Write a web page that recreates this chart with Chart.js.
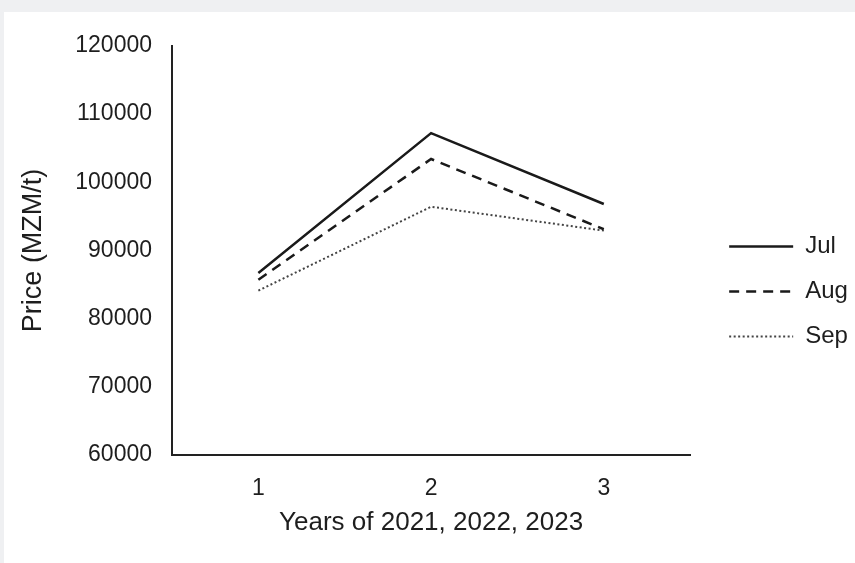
<!DOCTYPE html>
<html>
<head>
<meta charset="utf-8">
<script src="https://cdn.jsdelivr.net/npm/chart.js@4.4.0/dist/chart.umd.min.js"></script>
<style>
    html, body { margin: 0; padding: 0; background: #eff0f2; }
    #wrap { position: absolute; left: 4px; top: 12px; width: 851px; height: 551px; background: #fff; }
</style>
</head>
<body>
<div id="wrap"><canvas id="grafico" width="851" height="551"></canvas></div>
<script>
// Dados
const categorias = ['1', '2', '3'];
const jul = [86700, 107200, 96800];
const aug = [85700, 103400, 93100];
const sep = [84100, 96400, 92900];
const yTicks = [60000, 70000, 80000, 90000, 100000, 110000, 120000];

document.addEventListener('DOMContentLoaded', function () {
    const canvas = document.getElementById('grafico');
    const corTexto = '#1e1e1e';
    const fonte = 'Liberation Sans, Arial, sans-serif';
    const larguraLinha = 64;

    // Desenha as linhas da legenda com o mesmo tracejado das séries
    const linhasLegenda = {
        id: 'linhasLegenda',
        afterDraw(chart) {
            const legend = chart.legend;
            const ctx = chart.ctx;
            legend.legendItems.forEach((item, i) => {
                const hb = legend.legendHitBoxes[i];
                const ds = chart.data.datasets[item.datasetIndex];
                const y = hb.top + hb.height / 2;
                ctx.save();
                ctx.strokeStyle = ds.borderColor;
                ctx.lineWidth = ds.borderWidth;
                ctx.setLineDash(ds.borderDash || []);
                ctx.beginPath();
                ctx.moveTo(hb.left, y);
                ctx.lineTo(hb.left + larguraLinha, y);
                ctx.stroke();
                ctx.restore();
            });
        }
    };

    new Chart(canvas, {
        type: 'line',
        data: {
            labels: categorias,
            datasets: [
                { label: 'Jul', data: jul, borderColor: '#1a1a1a', borderWidth: 2.5 },
                { label: 'Aug', data: aug, borderColor: '#1a1a1a', borderWidth: 2.5, borderDash: [10, 7] },
                { label: 'Sep', data: sep, borderColor: '#444', borderWidth: 2, borderDash: [2, 2.5] }
            ]
        },
        plugins: [linhasLegenda],
        options: {
            responsive: false,
            animation: false,
            layout: { padding: { left: 0, top: 30, right: 6, bottom: 22 } },
            elements: {
                point: { radius: 0, hoverRadius: 0 },
                line: { tension: 0, fill: false }
            },
            plugins: {
                legend: {
                    position: 'right',
                    labels: {
                        usePointStyle: true,
                        pointStyle: 'line',
                        pointStyleWidth: larguraLinha,
                        padding: 21,
                        color: corTexto,
                        font: { family: fonte, size: 24 },
                        generateLabels: function (chart) {
                            return Chart.defaults.plugins.legend.labels.generateLabels(chart).map(it =>
                                Object.assign(it, { strokeStyle: 'rgba(0,0,0,0)', fillStyle: 'rgba(0,0,0,0)' }));
                        }
                    }
                },
                tooltip: { enabled: false }
            },
            scales: {
                x: {
                    offset: true,
                    grid: { display: false, drawTicks: false },
                    border: { display: true, color: '#222', width: 2 },
                    ticks: { color: corTexto, padding: 20, font: { family: fonte, size: 23 } },
                    title: {
                        display: true,
                        text: 'Years of 2021, 2022, 2023',
                        color: corTexto,
                        font: { family: fonte, size: 26 },
                        padding: { top: 0, bottom: 3 }
                    },
                    afterFit: function (s) { s.height = 86; }
                },
                y: {
                    min: yTicks[0],
                    max: yTicks[yTicks.length - 1],
                    afterBuildTicks: function (s) { s.ticks = yTicks.map(v => ({ value: v })); },
                    grid: { display: false, drawTicks: false },
                    border: { display: true, color: '#222', width: 2 },
                    ticks: {
                        color: corTexto,
                        padding: 20,
                        font: { family: fonte, size: 23 },
                        callback: function (v) { return String(v); }
                    },
                    title: {
                        display: true,
                        text: 'Price (MZM/t)',
                        color: corTexto,
                        font: { family: fonte, size: 27 },
                        padding: { top: 13, bottom: 0 }
                    },
                    afterFit: function (s) { s.width = 168; }
                },
                espaco: {
                    type: 'linear',
                    position: 'right',
                    display: true,
                    grid: { display: false, drawTicks: false },
                    border: { display: false },
                    ticks: { display: false },
                    afterFit: function (s) { s.width = 18; }
                }
            }
        }
    });
});
</script>
</body>
</html>
